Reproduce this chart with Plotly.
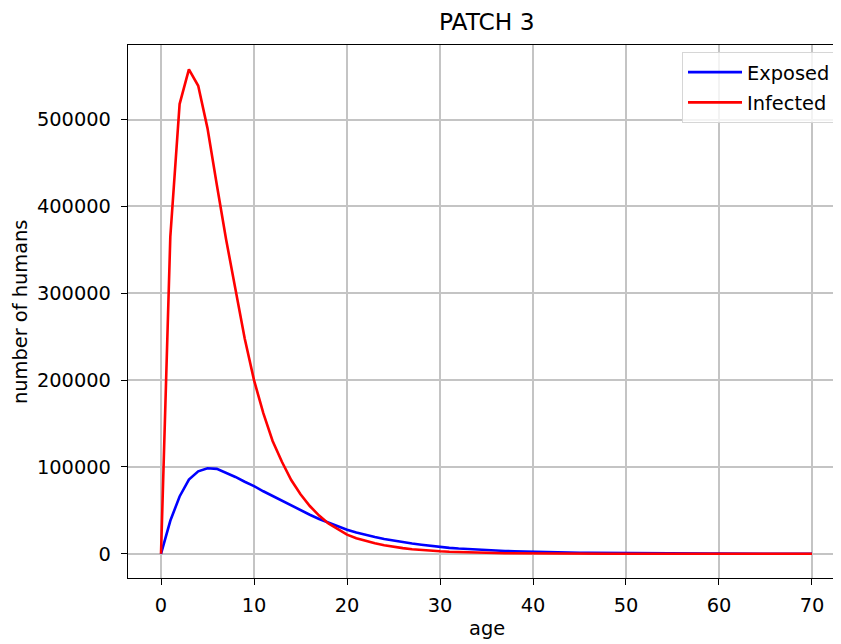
import plotly.graph_objects as go

ages = list(range(0, 71))

exposed = [
    0, 38000, 66000, 85500, 95000, 98500, 97800, 93500, 88500, 83000,
    78000, 72000, 66500, 61000, 55500, 50000, 45000, 40000, 36000, 31500,
    27700, 24500, 21700, 19300, 17000, 15000, 13300, 11800, 10400, 9000,
    7700, 6800, 6000, 5300, 4700, 4150, 3650, 3200, 2850, 2500,
    2200, 1950, 1700, 1500, 1320, 1160, 1020, 900, 790, 700,
    610, 540, 470, 420, 370, 320, 280, 250, 220, 190,
    170, 150, 130, 115, 100, 90, 80, 70, 60, 55, 50,
]

infected = [
    0, 365000, 518000, 558000, 539000, 490000, 425000, 362000, 305000, 248000,
    200000, 162000, 130000, 106000, 85000, 68500, 55000, 44000, 35000, 28000,
    22000, 18000, 14700, 12000, 9800, 8000, 6500, 5300, 4300, 3500,
    2900, 2350, 1900, 1550, 1250, 1000, 820, 660, 540, 430,
    350, 285, 230, 185, 150, 120, 98, 80, 64, 52,
    42, 34, 27, 22, 18, 14, 11, 9, 7, 6,
    5, 4, 3, 3, 2, 2, 1, 1, 1, 1, 1,
]

x_ticks = [0, 10, 20, 30, 40, 50, 60, 70]
y_ticks = [0, 100000, 200000, 300000, 400000, 500000]

# page body has an 8px margin; lay out in reference pixels shifted by that offset
OFF = 8
W, H = 841 - OFF, 644 - OFF
L, R, T, B = 128 - OFF, 0, 45 - OFF, 644 - 578

FONT = "DejaVu Sans"
FS = 19.4

fig = go.Figure()
fig.add_trace(go.Scatter(x=ages, y=exposed, mode="lines", name="Exposed",
                         legendgroup="e",
                         line=dict(color="#0000ff", width=2.6)))
fig.add_trace(go.Scatter(x=ages, y=infected, mode="lines", name="Infected",
                         legendgroup="i",
                         line=dict(color="#ff0000", width=2.6)))

pw = W - L - R
ph = H - T - B

def px_x(p):
    return (p - OFF - L) / pw

def px_y(p):
    return (H - B - (p - OFF)) / ph

fig.update_layout(
    width=W, height=H,
    margin=dict(l=L, r=R, t=T, b=B, pad=0),
    paper_bgcolor="white", plot_bgcolor="white",
    font=dict(family=FONT, size=FS, color="black"),
    showlegend=True,
    legend=dict(
        x=px_x(836), y=px_y(52), xanchor="right", yanchor="top",
        bgcolor="rgba(255,255,255,0.8)", bordercolor="#d6d6d6", borderwidth=1,
        font=dict(family=FONT, size=FS, color="black"),
        itemwidth=54, tracegroupgap=2,
    ),
    xaxis=dict(
        range=[-3.55, 73.12], tickvals=x_ticks, ticktext=[str(v) for v in x_ticks],
        showgrid=True, gridcolor="#c4c4c4", gridwidth=1.5,
        zeroline=False, showline=True, linecolor="black", linewidth=1.4, mirror=True,
        ticks="outside", ticklen=6, tickwidth=1.4, tickcolor="black",
        ticklabelstandoff=4,
    ),
    yaxis=dict(
        range=[-27900, 586000], tickvals=y_ticks, ticktext=[str(v) for v in y_ticks],
        showgrid=True, gridcolor="#c4c4c4", gridwidth=1.5,
        zeroline=False, showline=True, linecolor="black", linewidth=1.4, mirror=False,
        ticks="outside", ticklen=6, tickwidth=1.4, tickcolor="black",
        ticklabelstandoff=6,
    ),
    annotations=[
        dict(text="PATCH 3", xref="paper", yref="paper", x=px_x(486.5), y=px_y(22),
             xanchor="center", yanchor="middle", showarrow=False,
             font=dict(family=FONT, size=23.3, color="black")),
        dict(text="age", xref="paper", yref="paper", x=px_x(486.5), y=px_y(628),
             xanchor="center", yanchor="middle", showarrow=False,
             font=dict(family=FONT, size=FS, color="black")),
        dict(text="number of humans", xref="paper", yref="paper", x=px_x(20), y=px_y(312),
             xanchor="center", yanchor="middle", showarrow=False, textangle=-90,
             font=dict(family=FONT, size=FS, color="black")),
    ],
)

fig.write_html("out.html")
